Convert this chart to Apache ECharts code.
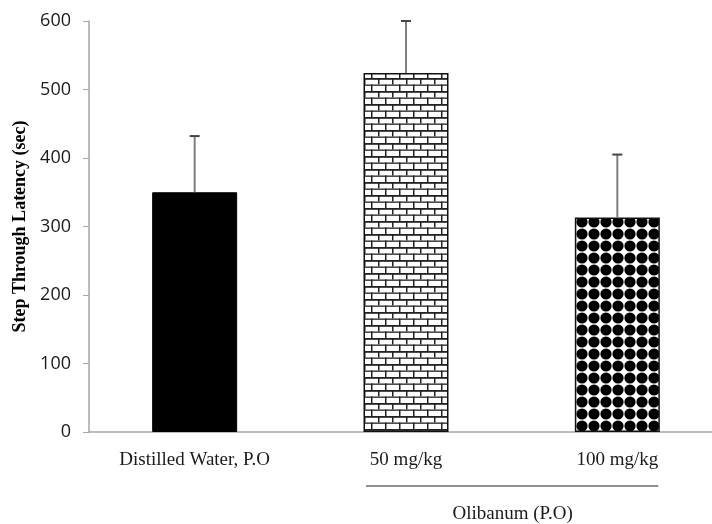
<!DOCTYPE html>
<html>
<head>
<meta charset="utf-8">
<script src="https://cdn.jsdelivr.net/npm/echarts@6/dist/echarts.min.js"></script>
<style>html,body{margin:0;padding:0;background:#fff;overflow:hidden;width:712px;height:524px}#c{width:723px;height:524px}</style>
</head>
<body>
<div id="c"></div>
<script>
var categories = ['Distilled Water, P.O', '50 mg/kg', '100 mg/kg'];
var means = [350, 524, 313];
var errorTops = [432, 600, 405];
var yTicks = [0, 100, 200, 300, 400, 500, 600];
var groupLabel = 'Olibanum (P.O)';
var yAxisTitle = 'Step Through Latency (sec)';

function brickPattern() {
  var c = document.createElement('canvas');
  c.width = 14; c.height = 13;
  var g = c.getContext('2d');
  g.fillStyle = '#fff'; g.fillRect(0, 0, 14, 13);
  g.fillStyle = '#222';
  g.fillRect(0, 0, 14, 1.8);
  g.fillRect(0, 6.5, 14, 1.3);
  g.fillRect(0, 0, 1.5, 6.5);
  g.fillRect(7, 6.5, 1.5, 6.5);
  return c;
}
function dotPattern() {
  var c = document.createElement('canvas');
  c.width = 12; c.height = 12;
  var g = c.getContext('2d');
  g.fillStyle = '#fff'; g.fillRect(0, 0, 12, 12);
  g.fillStyle = '#000';
  g.beginPath(); g.arc(6, 6, 5.6, 0, Math.PI * 2); g.fill();
  return c;
}

var chart = echarts.init(document.getElementById('c'), null, {renderer: 'canvas'});
var styles = [
  {color: '#000', borderColor: '#000', borderWidth: 1},
  {color: {image: brickPattern(), repeat: 'repeat'}, borderColor: '#111', borderWidth: 1.5},
  {color: {image: dotPattern(), repeat: 'repeat'}, borderColor: '#111', borderWidth: 1.5}
];
var barData = means.map(function (v, i) { return {value: v, itemStyle: styles[i]}; });
var errData = means.map(function (v, i) { return [i, v, errorTops[i]]; });

chart.setOption({
  animation: false,
  backgroundColor: '#fff',
  grid: {left: 89, top: 21, right: 0, bottom: 92, containLabel: false},
  xAxis: {
    type: 'category',
    data: categories,
    axisLine: {lineStyle: {color: '#a6a6a6', width: 1.5}},
    axisTick: {show: false},
    axisLabel: {margin: 19, fontFamily: 'Liberation Serif', fontSize: 19, color: '#1a1a1a'}
  },
  yAxis: {
    type: 'value',
    min: 0, max: 600, interval: 100,
    name: yAxisTitle,
    nameLocation: 'middle',
    nameGap: 56,
    nameTextStyle: {fontFamily: 'Liberation Serif', fontWeight: 'bold', fontSize: 18, color: '#000'},
    axisLine: {show: true, lineStyle: {color: '#a6a6a6', width: 1.5}},
    axisTick: {show: true, length: 6, lineStyle: {color: '#a6a6a6'}},
    splitLine: {show: false},
    axisLabel: {
      margin: 18, fontFamily: 'Open Sans', fontSize: 18, color: '#1a1a1a',
      formatter: function (v) { return yTicks.indexOf(v) >= 0 ? String(v) : ''; }
    }
  },
  series: [
    {type: 'bar', data: barData, barWidth: 85, z: 2},
    {
      type: 'custom',
      z: 3,
      data: errData,
      renderItem: function (params, api) {
        var x = api.coord([api.value(0), api.value(1)]);
        var top = api.coord([api.value(0), api.value(2)]);
        return {
          type: 'group',
          children: [
            {type: 'line', shape: {x1: x[0], y1: x[1], x2: x[0], y2: top[1]}, style: {stroke: '#7f7f7f', lineWidth: 2}},
            {type: 'line', shape: {x1: x[0] - 5, y1: top[1], x2: x[0] + 5, y2: top[1]}, style: {stroke: '#444', lineWidth: 2}}
          ]
        };
      }
    }
  ]
});

var p1 = chart.convertToPixel({xAxisIndex: 0}, categories[1]);
var p2 = chart.convertToPixel({xAxisIndex: 0}, categories[2]);
var yBase = chart.convertToPixel({yAxisIndex: 0}, 0);
chart.setOption({
  graphic: [
    {type: 'line', shape: {x1: p1 - 40, y1: yBase + 54, x2: p2 + 41, y2: yBase + 54}, style: {stroke: '#222', lineWidth: 1.2}},
    {type: 'text', x: (p1 + p2) / 2 + 1, y: yBase + 82, style: {text: groupLabel, font: '19px "Liberation Serif"', fill: '#1a1a1a', textAlign: 'center', textVerticalAlign: 'middle'}}
  ]
});
</script>
</body>
</html>
